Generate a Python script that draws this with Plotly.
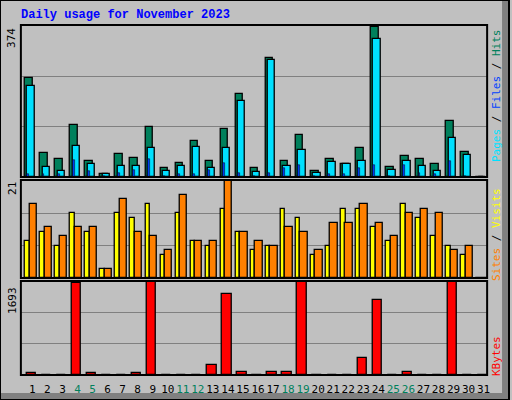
import plotly.graph_objects as go

days = list(range(1, 32))
hits = [247, 59, 44, 130, 41, 7, 56, 46, 125, 22, 34, 90, 41, 120, 207,
        22, 295, 39, 104, 16, 44, 32, 72, 374, 24, 51, 44, 32, 140, 61, 0]
files = [226, 24, 16, 77, 32, 7, 27, 27, 72, 16, 27, 75, 22, 72, 188,
         13, 290, 27, 67, 11, 37, 32, 39, 343, 18, 39, 27, 16, 97, 54, 0]
pages = [7, 8, 7, 42, 16, 3, 11, 17, 44, 3, 7, 7, 17, 34, 11,
         3, 11, 22, 29, 3, 7, 7, 22, 29, 3, 29, 11, 7, 39, 3, 0]
visits = [8, 10, 7, 14, 10, 2, 14, 13, 16, 5, 14, 8, 7, 15, 10,
          6, 7, 15, 13, 5, 7, 15, 15, 11, 8, 16, 13, 9, 7, 5, 0]
sites = [16, 11, 9, 11, 11, 2, 17, 10, 9, 6, 18, 8, 8, 21, 10,
         8, 7, 11, 10, 6, 12, 12, 16, 12, 9, 14, 15, 14, 6, 7, 0]
kbytes = [37, 5, 5, 1674, 37, 5, 5, 37, 1693, 5, 5, 5, 186, 1470, 56,
          5, 56, 56, 1693, 5, 5, 5, 316, 1358, 5, 56, 5, 5, 1690, 5, 5]
weekend = [4, 5, 11, 12, 18, 19, 25, 26]

MONO = "DejaVu Sans Mono"
line = dict(color="black", width=1.3)

fig = go.Figure()
fig.add_bar(x=days, y=hits, width=0.5, offset=-0.22, marker=dict(color="#00805c", line=line), yaxis="y")
fig.add_bar(x=days, y=files, width=0.49, offset=-0.07, marker=dict(color="#00e0ff", line=line), yaxis="y")
fig.add_bar(x=days, y=pages, width=0.13, offset=-0.07, marker=dict(color="#0040ff", line=dict(width=0.5, color="black")), yaxis="y")
fig.add_bar(x=days, y=visits, width=0.3, offset=-0.22, marker=dict(color="#ffff00", line=line), yaxis="y2")
fig.add_bar(x=days, y=sites, width=0.49, offset=0.07, marker=dict(color="#ff8000", line=line), yaxis="y2")
fig.add_bar(x=days, y=kbytes, width=0.62, offset=-0.12, marker=dict(color="#ff0000", line=line), yaxis="y3")
fig.update_traces(cliponaxis=False)

def yax(top, dom):
    return dict(domain=dom, range=[0, top * 1.01], tickvals=[top / 3, 2 * top / 3], showticklabels=False,
                showgrid=True, gridcolor="#808080", gridwidth=1.3, zeroline=False, fixedrange=True)

ticktext = [f"<span style='color:#00805c'>{d}</span>" if d in weekend else str(d) for d in days]

fig.update_layout(
    width=512, height=400, margin=dict(l=0, r=0, t=0, b=0),
    paper_bgcolor="#c0c0c0", plot_bgcolor="#c0c0c0",
    barmode="overlay", showlegend=False, bargap=0,
    font=dict(family=MONO, size=12, color="black"),
    xaxis=dict(domain=[21 / 512, 490 / 512], range=[0.5, 31.5], tickvals=days, ticktext=ticktext,
               ticks="", showgrid=False, zeroline=False, anchor="y3", tickangle=0,
               tickfont=dict(size=11, family=MONO), ticklabelshift=4, ticklabelstandoff=6),
    yaxis=yax(374, [1 - 177 / 400, 1 - 25 / 400]),
    yaxis2=yax(21, [1 - 278 / 400, 1 - 180 / 400]),
    yaxis3=yax(1693, [1 - 375 / 400, 1 - 281 / 400]),
)
fig.update_layout(yaxis2_anchor="x", yaxis3_anchor="x")

shapes = []
for y0, y1 in [(25, 177), (180, 278), (281, 375)]:
    shapes.append(dict(type="rect", xref="paper", yref="paper", x0=21 / 512, x1=490 / 512,
                       y0=1 - y1 / 400, y1=1 - y0 / 400, line=dict(color="black", width=2)))
shapes.append(dict(type="rect", xref="paper", yref="paper", x0=505 / 512, x1=1, y0=0, y1=1,
                   fillcolor="#808080", line=dict(width=0), layer="below"))
shapes.append(dict(type="rect", xref="paper", yref="paper", x0=0, x1=1, y0=0, y1=7 / 400,
                   fillcolor="#808080", line=dict(width=0), layer="below"))
shapes.append(dict(type="rect", xref="paper", yref="paper", x0=0, x1=1, y0=0, y1=1,
                   line=dict(color="black", width=2)))
fig.update_layout(shapes=shapes)

ann = [
    dict(text="<b>Daily usage for November 2023</b>", x=19 / 512, y=1 - 15 / 400, xanchor="left",
         yanchor="middle", font=dict(color="#0000ff", size=12, family="Liberation Mono")),
    dict(text="374", x=12 / 512, y=1 - 38 / 400, textangle=-90),
    dict(text="21", x=12 / 512, y=1 - 188 / 400, textangle=-90),
    dict(text="1693", x=12 / 512, y=1 - 300 / 400, textangle=-90),
    dict(text="<span style='color:#00e0ff'>Pages</span> / <span style='color:#0040ff'>Files</span> / "
              "<span style='color:#00805c'>Hits</span>", x=499 / 512, y=1 - 96 / 400, textangle=-90),
    dict(text="<span style='color:#ff8000'>Sites</span> / <span style='color:#ffff00'>Visits</span>",
         x=499 / 512, y=1 - 235 / 400, textangle=-90),
    dict(text="<span style='color:#ff0000'>KBytes</span>", x=499 / 512, y=1 - 356 / 400, textangle=-90),
]
for a in ann:
    a.setdefault("font", dict(size=11, family=MONO))
    a.setdefault("xanchor", "center")
    a.setdefault("yanchor", "middle")
    a.update(xref="paper", yref="paper", showarrow=False)
fig.update_layout(annotations=ann)

fig.write_html("out.html", config={"displayModeBar": False},
               post_script="document.body.style.margin='0';document.body.style.overflow='hidden';")
